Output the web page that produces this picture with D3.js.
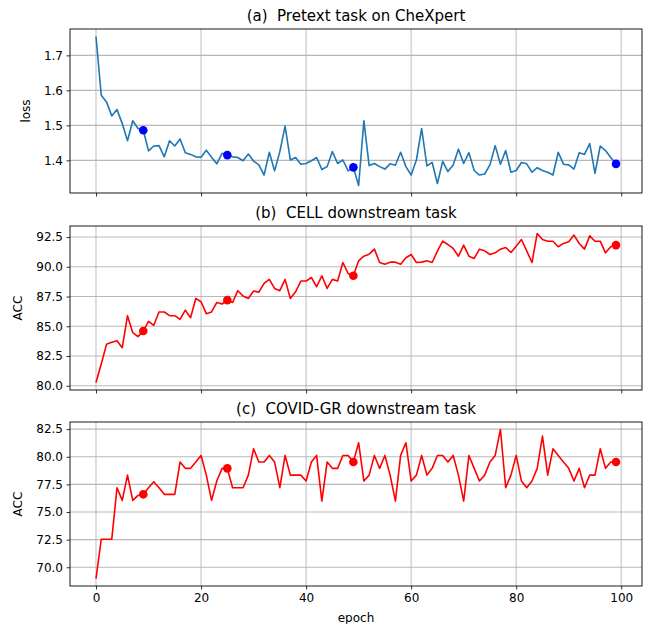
<!DOCTYPE html>
<html><head><meta charset="utf-8">
<script src="https://cdn.jsdelivr.net/npm/d3@7"></script>
<style>
body{margin:0;background:#fff;}
svg{font-family:"DejaVu Sans",sans-serif;}
text{white-space:pre;}
</style></head>
<body><svg id="c" width="648" height="624"></svg>
<script>
const epochs = d3.range(0,100);
const pretextLoss = [1.754,1.586,1.567,1.527,1.545,1.505,1.456,1.513,1.491,1.486,
1.427,1.441,1.442,1.410,1.456,1.441,1.461,1.422,1.417,1.410,
1.409,1.429,1.409,1.390,1.420,1.415,1.410,1.408,1.399,1.418,
1.398,1.387,1.358,1.423,1.370,1.425,1.498,1.401,1.408,1.389,
1.391,1.399,1.408,1.374,1.382,1.425,1.391,1.401,1.370,1.380,
1.328,1.513,1.385,1.391,1.382,1.375,1.390,1.386,1.423,1.382,
1.358,1.401,1.491,1.384,1.394,1.334,1.397,1.368,1.387,1.432,
1.391,1.422,1.371,1.358,1.361,1.387,1.442,1.389,1.428,1.366,
1.371,1.394,1.390,1.366,1.379,1.371,1.366,1.358,1.423,1.389,
1.387,1.375,1.422,1.417,1.448,1.363,1.441,1.428,1.408,1.390];
const cellAcc = [80.27,81.83,83.48,83.65,83.79,83.20,85.89,84.46,84.13,84.60,
85.41,85.08,86.20,86.20,85.89,85.89,85.58,86.36,85.72,87.34,
87.06,86.06,86.20,87.00,86.87,87.20,87.00,87.99,87.54,87.34,
87.96,87.87,88.60,88.94,88.18,87.99,88.94,87.34,87.90,88.80,
88.80,89.10,88.32,89.24,88.18,88.94,88.80,90.36,89.44,89.24,
90.50,90.89,91.06,91.48,90.36,90.22,90.39,90.39,90.22,90.76,
91.03,90.36,90.39,90.50,90.36,91.31,92.15,91.87,91.54,90.89,
91.82,90.89,90.70,91.48,91.34,91.03,91.17,91.48,91.62,91.20,
91.73,92.29,91.34,90.36,92.80,92.29,92.15,92.15,91.68,91.96,
92.10,92.66,91.96,91.48,92.60,92.15,92.15,91.17,91.68,91.82];
const covidAcc = [68.98,72.53,72.53,72.53,77.20,76.05,78.34,76.05,76.50,76.60,
77.20,77.74,77.20,76.60,76.60,76.60,79.52,78.95,78.95,79.52,
80.12,78.34,76.05,77.80,78.95,78.95,77.20,77.20,77.20,78.34,
80.72,79.52,79.52,80.12,79.52,77.20,80.12,78.34,78.34,78.34,
77.80,79.52,80.12,75.99,79.52,78.95,78.95,80.12,80.12,79.52,
81.27,77.80,78.34,80.12,78.95,80.12,78.34,75.99,80.12,81.27,
77.80,78.34,80.12,78.34,78.95,80.12,80.12,79.52,80.12,78.34,
75.99,80.12,78.95,77.80,78.34,79.52,80.12,82.47,77.20,78.34,
80.12,77.80,77.20,77.80,78.95,81.87,78.34,80.72,80.12,79.52,
78.95,77.80,78.95,77.20,78.34,78.34,80.72,78.95,79.52,79.52];
const markerEpochs = [9,25,49,99];
const xTicks = [0,20,40,60,80,100];
const panelTitles = ["(a)  Pretext task on CheXpert","(b)  CELL downstream task","(c)  COVID-GR downstream task"];
const yLabels = ["loss","ACC","ACC"];
const yTicks1 = [1.4,1.5,1.6,1.7];
const yTicks2 = [80.0,82.5,85.0,87.5,90.0,92.5];
const yTicks3 = [70.0,72.5,75.0,77.5,80.0,82.5];

const svg = d3.select("#c");
const left = 70, right = 642;
const panels = [
  {top:29, bottom:193, data:pretextLoss, ticks:yTicks1, fmt:d3.format(".1f"), line:"#1f77b4", mark:"#0000ff", lx:30},
  {top:226, bottom:390, data:cellAcc, ticks:yTicks2, fmt:d3.format(".1f"), line:"#ff0000", mark:"#ff0000", lx:22},
  {top:422, bottom:586, data:covidAcc, ticks:yTicks3, fmt:d3.format(".1f"), line:"#ff0000", mark:"#ff0000", lx:22}
];
const x = d3.scaleLinear().domain([-4.95,103.95]).range([left,right]);

panels.forEach((p,i)=>{
  const ext = d3.extent(p.data); const pad=(ext[1]-ext[0])*0.05;
  const y = d3.scaleLinear().domain([ext[0]-pad, ext[1]+pad]).range([p.bottom,p.top]);
  const g = svg.append("g");
  g.selectAll(".vg").data(xTicks).join("line")
    .attr("x1",d=>x(d)).attr("x2",d=>x(d)).attr("y1",p.top).attr("y2",p.bottom)
    .attr("stroke","#b0b0b0").attr("stroke-opacity",0.6).attr("stroke-width",1.4);
  g.selectAll(".hg").data(p.ticks).join("line")
    .attr("x1",left).attr("x2",right).attr("y1",d=>y(d)).attr("y2",d=>y(d))
    .attr("stroke","#b0b0b0").attr("stroke-opacity",0.9).attr("stroke-width",1.1);
  const line = d3.line().x((d,j)=>x(epochs[j])).y(d=>y(d));
  g.append("path").datum(p.data).attr("d",line).attr("fill","none")
    .attr("stroke",p.line).attr("stroke-width",1.6).attr("stroke-linejoin","round");
  g.selectAll(".m").data(markerEpochs).join("circle")
    .attr("cx",d=>x(d)).attr("cy",d=>y(p.data[d])).attr("r",4.3).attr("fill",p.mark);
  const ya = d3.axisLeft(y).tickValues(p.ticks).tickFormat(p.fmt).tickSize(3.5).tickPadding(3.5);
  const yg = g.append("g").attr("transform",`translate(${left},0)`).call(ya);
  yg.select(".domain").remove();
  yg.selectAll("text").attr("font-size",12).attr("fill","#000").attr("font-family","DejaVu Sans");
  yg.selectAll("line").attr("stroke","#000").attr("stroke-width",0.8);
  const xa = d3.axisBottom(x).tickValues(xTicks).tickSize(3.5).tickPadding(3.5)
    .tickFormat(i===2 ? d3.format("d") : ()=>"");
  const xg = g.append("g").attr("transform",`translate(0,${p.bottom})`).call(xa);
  xg.select(".domain").remove();
  xg.selectAll("text").attr("font-size",12).attr("fill","#000").attr("font-family","DejaVu Sans");
  xg.selectAll("line").attr("stroke","#000").attr("stroke-width",0.8);
  g.append("rect").attr("x",left).attr("y",p.top).attr("width",right-left).attr("height",p.bottom-p.top)
    .attr("fill","none").attr("stroke","#000").attr("stroke-width",0.9);
  g.append("text").attr("x",(left+right)/2).attr("y",p.top-8).attr("text-anchor","middle")
    .attr("font-size",15).text(panelTitles[i]);
  g.append("text").attr("transform",`translate(${p.lx},${(p.top+p.bottom)/2}) rotate(-90)`)
    .attr("text-anchor","middle").attr("font-size",12).text(yLabels[i]);
});
svg.append("text").attr("x",(left+right)/2).attr("y",622).attr("text-anchor","middle")
  .attr("font-size",12).text("epoch");
</script></body></html>
